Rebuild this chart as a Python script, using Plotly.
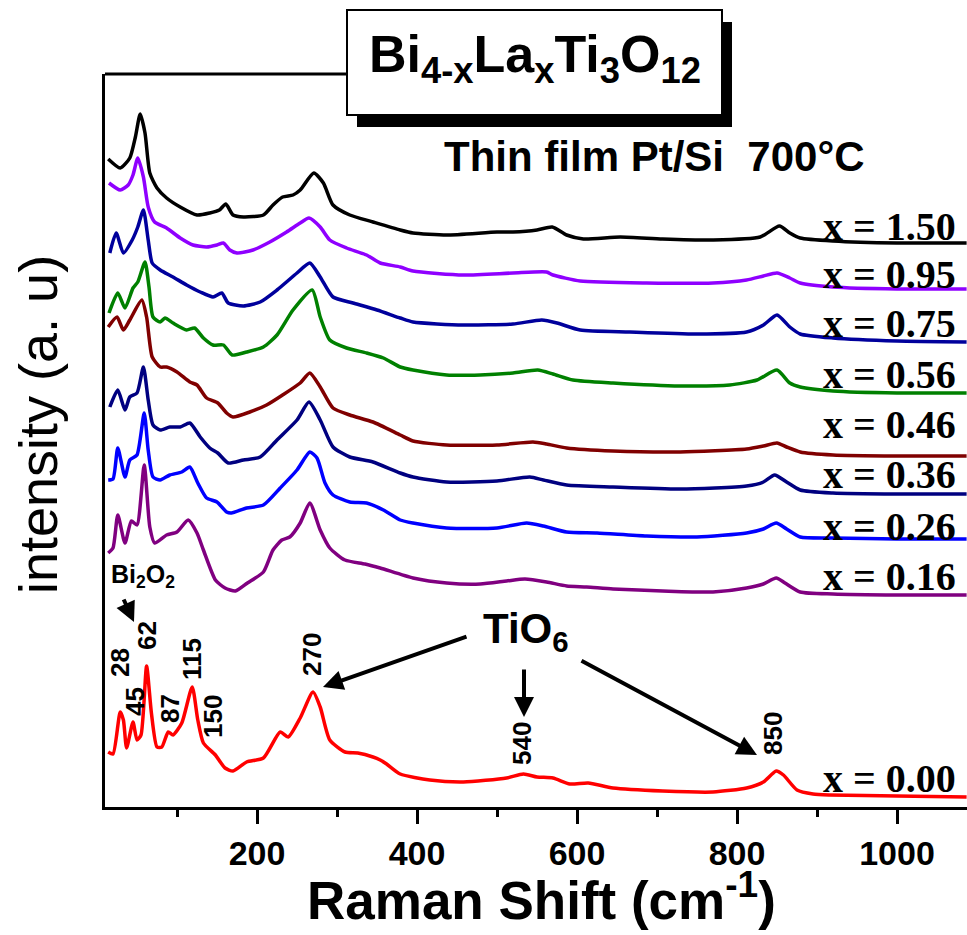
import plotly.graph_objects as go

# ---------------- data (Raman shift in cm-1, intensity in a.u. with stacking offset) -------------
labels = ["x = 1.50", "x = 0.95", "x = 0.75", "x = 0.56", "x = 0.46",
          "x = 0.36", "x = 0.26", "x = 0.16", "x = 0.00"]
colors = ["#000000", "#8f00ff", "#00009c", "#008000", "#800000",
          "#000080", "#0000ff", "#800080", "#ff0000"]

x_150 = [14, 29, 41, 48, 54, 60, 66, 75, 87, 104, 125, 141, 153, 161, 170, 183, 208, 220, 232, 245, 254, 271, 283,
         295, 316, 345, 379, 395, 437, 500, 520, 550, 569, 587, 608, 654, 707, 770, 829, 853, 866, 879, 920, 1000, 1087]
y_150 = [648, 639, 649, 670, 693, 674, 634, 619, 609, 600, 592, 594, 597, 603, 592, 590, 592, 602, 610, 612, 617, 634, 624,
         602, 592, 585, 577, 574, 572, 575, 575, 577, 580, 572, 568, 570, 568, 567, 570, 581, 574, 569, 566, 564, 564]

x_095 = [15, 29, 39, 45, 51, 58, 64, 72, 87, 104, 120, 137, 150, 158, 166, 175, 195, 216, 237, 254, 265, 279, 291, 312,
         337, 354, 379, 395, 458, 520, 562, 570, 604, 687, 770, 812, 833, 850, 866, 879, 920, 1000, 1087]
y_095 = [624, 617, 622, 632, 649, 630, 600, 585, 579, 569, 562, 560, 562, 564, 557, 554, 557, 565, 575, 584, 589, 580, 567, 559,
         552, 544, 540, 536, 532, 534, 535, 532, 526, 524, 524, 527, 531, 534, 529, 524, 520, 518, 518]

x_075 = [16, 24, 33, 44, 51, 58, 64, 69, 79, 95, 112, 129, 145, 156, 164, 183, 204, 225, 250, 266, 279, 295, 320, 350,
         379, 395, 458, 520, 556, 575, 604, 666, 750, 812, 833, 850, 866, 879, 920, 1000, 1087]
y_075 = [554, 574, 554, 567, 580, 597, 567, 544, 537, 530, 522, 515, 510, 514, 504, 501, 505, 517, 534, 544, 530, 510, 504, 497,
         489, 485, 482, 483, 487, 484, 477, 475, 473, 475, 482, 492, 480, 473, 469, 466, 465]

x_056 = [15, 26, 35, 45, 51, 60, 65, 70, 79, 85, 95, 112, 122, 133, 145, 158, 169, 187, 208, 225, 245, 269, 279, 291, 312,
         337, 358, 379, 395, 437, 479, 520, 551, 570, 595, 645, 729, 791, 825, 850, 866, 879, 920, 1000, 1087]
y_056 = [494, 514, 499, 519, 525, 545, 520, 490, 485, 489, 484, 477, 479, 469, 462, 462, 452, 455, 460, 472, 497, 517, 490, 467, 459,
         454, 449, 440, 437, 432, 432, 434, 437, 433, 427, 424, 421, 422, 427, 437, 424, 420, 416, 414, 414]

x_046 = [14, 25, 33, 41, 56, 62, 69, 79, 87, 100, 116, 125, 137, 151, 162, 170, 191, 212, 232, 254, 266, 279, 295, 316,
         345, 379, 395, 437, 500, 545, 562, 587, 645, 729, 812, 833, 850, 862, 879, 920, 1000, 1087]
y_046 = [480, 490, 477, 487, 507, 490, 450, 440, 440, 435, 425, 422, 409, 404, 394, 390, 395, 402, 412, 424, 434, 420, 399, 392,
         385, 372, 366, 362, 362, 365, 363, 359, 356, 355, 358, 361, 364, 360, 355, 352, 351, 351]

x_036 = [16, 26, 35, 41, 50, 58, 64, 70, 79, 91, 104, 116, 129, 141, 151, 164, 183, 204, 225, 250, 265, 279, 295, 316,
         345, 379, 395, 437, 500, 541, 558, 587, 645, 729, 812, 833, 847, 862, 879, 920, 1000, 1087]
y_036 = [400, 417, 397, 410, 414, 440, 407, 382, 377, 380, 380, 384, 370, 359, 354, 344, 347, 350, 367, 387, 405, 387, 360, 350,
         345, 334, 330, 325, 326, 330, 327, 322, 320, 318, 321, 325, 332, 325, 317, 314, 313, 313]

x_026 = [14, 20, 26, 35, 41, 50, 59, 64, 70, 79, 91, 106, 116, 126, 137, 150, 162, 168, 187, 208, 229, 250, 266, 275, 285,
         295, 316, 337, 358, 379, 395, 437, 500, 537, 558, 587, 625, 687, 750, 812, 833, 849, 862, 879, 920, 1000, 1087]
y_026 = [327, 328, 359, 330, 347, 352, 394, 357, 330, 327, 332, 335, 340, 324, 309, 305, 295, 294, 299, 302, 319, 337, 355, 349, 324,
         312, 305, 304, 297, 287, 284, 279, 279, 284, 281, 275, 274, 271, 270, 274, 278, 284, 278, 270, 269, 268, 268]

x_016 = [14, 20, 26, 35, 43, 50, 59, 66, 72, 87, 100, 114, 125, 133, 148, 160, 173, 188, 208, 220, 231, 241, 254, 266, 279,
         291, 310, 335, 354, 395, 437, 479, 512, 535, 562, 587, 612, 645, 707, 770, 812, 833, 849, 860, 879, 920, 1000, 1087]
y_016 = [254, 259, 292, 264, 286, 282, 342, 280, 264, 272, 275, 287, 274, 257, 227, 219, 216, 224, 235, 257, 267, 270, 284, 304, 277,
         259, 247, 243, 239, 229, 224, 223, 226, 228, 225, 221, 220, 218, 216, 215, 219, 223, 229, 224, 215, 213, 212, 212]

x_000 = [14, 20, 29, 33, 37, 45, 50, 55, 62, 68, 75, 81, 89, 95, 106, 119, 126, 133, 148, 160, 170, 187, 208, 229, 239, 254,
         270, 279, 291, 310, 326, 345, 354, 362, 379, 416, 458, 512, 533, 550, 570, 591, 614, 645, 707, 770, 812, 833, 849,
         858, 875, 895, 916, 1000, 1087]
y_000 = [55, 53, 95, 87, 59, 85, 67, 72, 141, 94, 60, 60, 75, 72, 84, 120, 87, 64, 52, 39, 36, 45, 49, 75, 70, 89,
         115, 100, 67, 55, 54, 50, 47, 43, 33, 27, 25, 29, 33, 30, 29, 23, 24, 19, 16, 15, 19, 25, 36,
         32, 17, 13, 12, 11, 10]

series_x = [x_150, x_095, x_075, x_056, x_046, x_036, x_026, x_016, x_000]
series_y = [y_150, y_095, y_075, y_056, y_046, y_036, y_026, y_016, y_000]

peak_labels = ["28", "45", "62", "87", "115", "150", "270", "540", "850"]

# ---------------- figure -------------
W, H = 967, 935
L, R, T, B = 105, 0, 74, 128
XMIN, XMAX = 10, 1087.5
YMAX = 733

def px_to_paper_x(px):
    return (px - L) / (W - L - R)

def py_to_paper_y(py):
    return (H - B - py) / (H - B - T)

fig = go.Figure()
for xs, ys, c, name in zip(series_x, series_y, colors, labels):
    fig.add_trace(go.Scatter(x=xs, y=ys, mode="lines", name=name,
                             line=dict(color=c, width=3.5, shape="spline", smoothing=0.6),
                             showlegend=False, hoverinfo="skip"))

SANS = "Liberation Sans, Arial, sans-serif"
SERIF = "Liberation Serif, Times New Roman, serif"

annotations = []
# sample labels on the right
label_centers = [581, 533, 484, 433, 383, 333, 281, 231, 29]
for name, yc in zip(labels, label_centers):
    annotations.append(dict(x=991, y=yc, xref="x", yref="y", text=name, showarrow=False,
                            xanchor="center", yanchor="middle",
                            font=dict(family=SERIF, size=40, color="black", weight="bold")))

# rotated peak labels on the x = 0.00 spectrum
peak_pos = [(28.75, 144), (47.5, 105), (62.5, 171), (91.25, 98), (118.75, 148),
            (145, 90), (268.75, 152), (531.25, 63), (845, 73)]
for t, (px_, py_) in zip(peak_labels, peak_pos):
    annotations.append(dict(x=px_, y=py_, xref="x", yref="y", text=t, showarrow=False,
                            textangle=-90, xanchor="center", yanchor="middle",
                            font=dict(family=SANS, size=26, color="black", weight="bold")))

# Bi2O2 label and arrow
annotations.append(dict(x=57, y=231, xref="x", yref="y", text="Bi<sub>2</sub>O<sub>2</sub>",
                        showarrow=False, xanchor="center", yanchor="middle",
                        font=dict(family=SANS, size=25, color="black", weight="bold")))
annotations.append(dict(x=46.25, y=185, ax=32.5, ay=209, xref="x", yref="y", axref="x", ayref="y",
                        text="", showarrow=True, arrowhead=2, arrowsize=1, arrowwidth=4, arrowcolor="black"))

# TiO6 label and arrows
annotations.append(dict(x=536, y=176, xref="x", yref="y", text="TiO<sub>6</sub>",
                        showarrow=False, xanchor="center", yanchor="middle",
                        font=dict(family=SANS, size=42, color="black", weight="bold")))
for (tx, ty, hx, hy) in [(463.75, 171, 282.5, 120), (533.75, 139, 533.75, 90), (603.75, 147, 825, 52)]:
    annotations.append(dict(x=hx, y=hy, ax=tx, ay=ty, xref="x", yref="y", axref="x", ayref="y",
                            text="", showarrow=True, arrowhead=2, arrowsize=1, arrowwidth=4, arrowcolor="black"))

# Thin film text
annotations.append(dict(x=697, y=651, xref="x", yref="y", text="Thin film Pt/Si\u00a0\u00a0700°C",
                        showarrow=False, xanchor="center", yanchor="middle",
                        font=dict(family=SANS, size=42, color="black", weight="bold")))

# Title inside box
annotations.append(dict(x=px_to_paper_x(535), y=py_to_paper_y(58), xref="paper", yref="paper",
                        text="Bi<sub>4-x</sub>La<sub>x</sub>Ti<sub>3</sub>O<sub>12</sub>",
                        showarrow=False, xanchor="center", yanchor="middle",
                        font=dict(family=SANS, size=52, color="black", weight="bold")))

# axis titles
annotations.append(dict(x=px_to_paper_x(541), y=py_to_paper_y(896), xref="paper", yref="paper",
                        text="Raman Shift (cm<sup>-1</sup>)", showarrow=False,
                        xanchor="center", yanchor="middle",
                        font=dict(family=SANS, size=53, color="black", weight="bold")))
annotations.append(dict(x=px_to_paper_x(38), y=py_to_paper_y(425), xref="paper", yref="paper",
                        text="intensity (a. u)", showarrow=False, textangle=-90,
                        xanchor="center", yanchor="middle",
                        font=dict(family=SANS, size=54, color="black")))

shapes = [
    # partial top frame line
    dict(type="line", xref="paper", yref="paper", x0=0, x1=px_to_paper_x(347), y0=1, y1=1,
         line=dict(color="black", width=3)),
    # box shadow
    dict(type="rect", xref="paper", yref="paper",
         x0=px_to_paper_x(357), x1=px_to_paper_x(732), y0=py_to_paper_y(127), y1=py_to_paper_y(22),
         fillcolor="black", line=dict(width=0)),
    # white title box
    dict(type="rect", xref="paper", yref="paper",
         x0=px_to_paper_x(347), x1=px_to_paper_x(722), y0=py_to_paper_y(115), y1=py_to_paper_y(10),
         fillcolor="white", line=dict(color="black", width=2)),
]

fig.update_layout(
    width=W, height=H,
    margin=dict(l=L, r=R, t=T, b=B, pad=0),
    paper_bgcolor="white", plot_bgcolor="white",
    showlegend=False,
    annotations=annotations,
    shapes=shapes,
    xaxis=dict(range=[XMIN, XMAX], showgrid=False, zeroline=False,
               showline=True, linecolor="black", linewidth=3,
               ticks="outside", ticklen=14, tickwidth=2.5, tickcolor="black",
               tick0=0, dtick=200,
               minor=dict(dtick=100, tick0=0, ticks="outside", ticklen=7, tickwidth=2.5, tickcolor="black"),
               tickfont=dict(family=SANS, size=34, color="black", weight="bold")),
    yaxis=dict(range=[0, YMAX], showgrid=False, zeroline=False,
               showline=True, linecolor="black", linewidth=3,
               showticklabels=False, ticks=""),
)

fig.write_html("out.html")
